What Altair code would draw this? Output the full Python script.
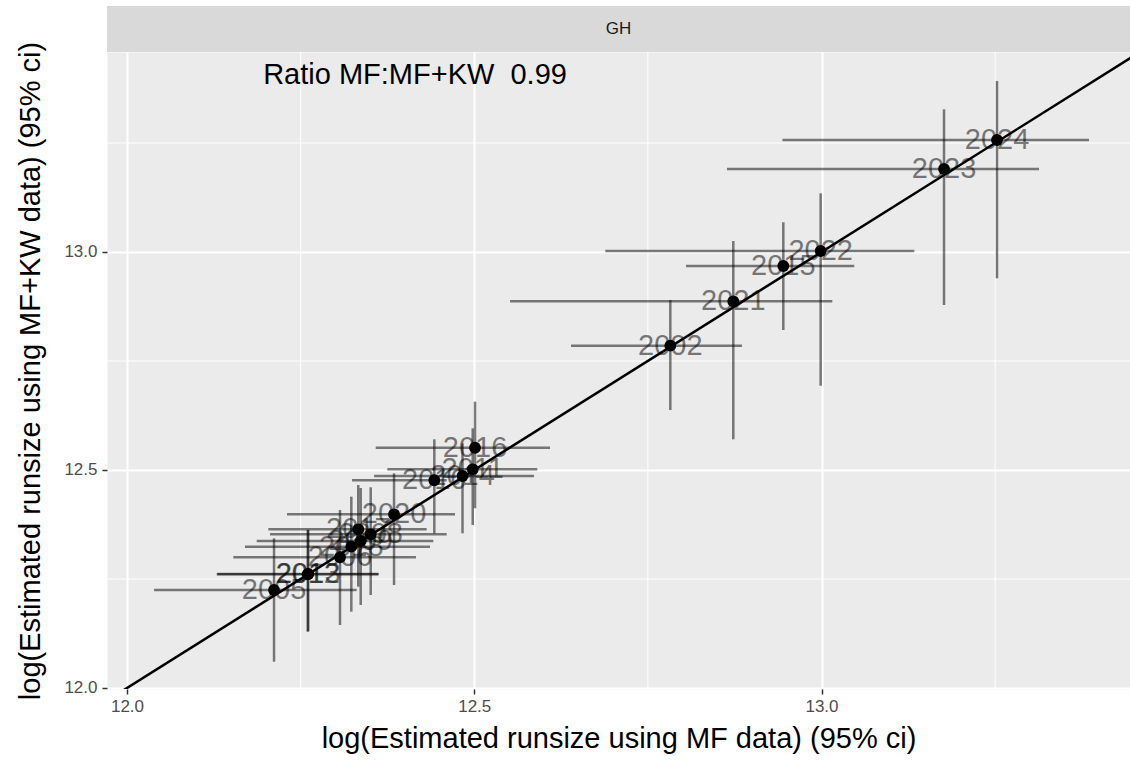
import altair as alt
import pandas as pd

# ---- data ----
years = ["2024", "2023", "2022", "2015", "2021", "2002", "2016", "2011", "2014", "2010",
         "2020", "2008", "2017", "2009", "2018", "2006", "2012", "2013", "2005"]
mf_est = [13.2527, 13.1764, 12.9988, 12.9450, 12.8730, 12.7823, 12.5011, 12.4978, 12.4831, 12.4425,
          12.3845, 12.3509, 12.3330, 12.3365, 12.3230, 12.3067, 12.2602, 12.2610, 12.2117]
mf_lo = [12.9437, 12.8639, 12.6887, 12.8049, 12.5515, 12.6393, 12.3581, 12.3748, 12.3557, 12.3240,
         12.2304, 12.2059, 12.2035, 12.1868, 12.1699, 12.1531, 12.1292, 12.1300, 12.0389]
mf_hi = [13.3852, 13.3132, 13.1336, 13.0472, 13.0156, 12.8855, 12.6091, 12.5908, 12.5860, 12.4603,
         12.4723, 12.4603, 12.4315, 12.4410, 12.4363, 12.4161, 12.3618, 12.3625, 12.3307]
kw_est = [13.2569, 13.1904, 13.0023, 12.9679, 12.8869, 12.7851, 12.5511, 12.5016, 12.4862, 12.4764,
          12.3984, 12.3525, 12.3640, 12.3372, 12.3241, 12.2998, 12.2608, 12.2615, 12.2248]
kw_lo = [12.9397, 12.8784, 12.6933, 12.8211, 12.5704, 12.6376, 12.4122, 12.3739, 12.3548, 12.3548,
         12.2362, 12.2133, 12.2323, 12.1904, 12.1750, 12.1445, 12.1291, 12.1300, 12.0603]
kw_hi = [13.3922, 13.3273, 13.1346, 13.0681, 13.0252, 12.8899, 12.6567, 12.5956, 12.5612, 12.5704,
         12.4924, 12.4603, 12.4656, 12.4587, 12.4388, 12.4083, 12.3624, 12.3630, 12.3433]

x_ticks = [12.0, 12.5, 13.0]
x_minor = [12.25, 12.75, 13.25]
y_ticks = [12.0, 12.5, 13.0]
y_minor = [12.25, 12.75, 13.25]
x_domain = [11.9712, 13.4442]
y_domain = [11.9977, 13.4587]
diag_ends = [11.5, 14.0]
strip_label = ["GH"]
ratio_text = ["Ratio MF:MF+KW\u00a0\u00a00.99"]
ratio_x = [12.4147]
ratio_y = [13.406]

FONT = "Liberation Sans"
BIG = 29
W, H = 1023, 637

df = pd.DataFrame({"year": years, "x": mf_est, "xlo": mf_lo, "xhi": mf_hi,
                   "y": kw_est, "ylo": kw_lo, "yhi": kw_hi})
xs = alt.Scale(domain=x_domain, nice=False, zero=False)
ys = alt.Scale(domain=y_domain, nice=False, zero=False)

XT = "log(Estimated runsize using MF data) (95% ci)"
YT = "log(Estimated runsize using MF+KW data) (95% ci)"
xaxis = alt.Axis(values=x_ticks, format=".1f", grid=True, gridColor="white", gridWidth=2,
                 domain=False, tickColor="#333333", tickSize=5, tickWidth=1.5,
                 labelColor="#4D4D4D", labelFontSize=17, labelFont=FONT, labelPadding=4,
                 title=XT, titleFont=FONT,
                 titleFontSize=BIG, titleFontWeight="normal", titleColor="black", titlePadding=10)
yaxis = alt.Axis(values=y_ticks, format=".1f", grid=True, gridColor="white", gridWidth=2,
                 domain=False, tickColor="#333333", tickSize=5, tickWidth=1.5,
                 labelColor="#4D4D4D", labelFontSize=17, labelFont=FONT, labelPadding=5,
                 title=YT, titleFont=FONT,
                 titleFontSize=BIG, titleFontWeight="normal", titleColor="black", titlePadding=18)

base = alt.Chart(df)

minor_x = alt.Chart(pd.DataFrame({"v": x_minor})).mark_rule(color="white", strokeWidth=1).encode(
    x=alt.X("v:Q", scale=xs, axis=xaxis, title=XT))
minor_y = alt.Chart(pd.DataFrame({"v": y_minor})).mark_rule(color="white", strokeWidth=1).encode(
    y=alt.Y("v:Q", scale=ys, axis=yaxis, title=YT))

hbars = base.mark_rule(color="black", opacity=0.5, strokeWidth=2.5).encode(
    x=alt.X("xlo:Q", scale=xs, axis=xaxis, title=XT), x2="xhi:Q",
    y=alt.Y("y:Q", scale=ys, axis=yaxis, title=YT))
vbars = base.mark_rule(color="black", opacity=0.5, strokeWidth=2.5).encode(
    x=alt.X("x:Q", scale=xs, axis=xaxis, title=XT),
    y=alt.Y("ylo:Q", scale=ys, axis=yaxis, title=YT), y2="yhi:Q")

diag = alt.Chart(pd.DataFrame({"a": diag_ends, "b": diag_ends})).mark_line(
    color="black", strokeWidth=2.5, clip=True).encode(
    x=alt.X("a:Q", scale=xs, axis=xaxis, title=XT), y=alt.Y("b:Q", scale=ys, axis=yaxis, title=YT))

points = base.mark_circle(size=140, color="black", opacity=1).encode(
    x=alt.X("x:Q", scale=xs, axis=xaxis, title=XT), y=alt.Y("y:Q", scale=ys, axis=yaxis, title=YT))

labels = base.mark_text(font=FONT, fontSize=BIG, color="black", opacity=0.5,
                        baseline="middle", align="center").encode(
    x=alt.X("x:Q", scale=xs, axis=xaxis, title=XT), y=alt.Y("y:Q", scale=ys, axis=yaxis, title=YT),
    text="year:N")

ratio = alt.Chart(pd.DataFrame({"t": ratio_text, "x": ratio_x, "y": ratio_y})).mark_text(
    font=FONT, fontSize=BIG, color="black", baseline="middle", align="center").encode(
    x=alt.X("x:Q", scale=xs, axis=xaxis, title=XT), y=alt.Y("y:Q", scale=ys, axis=yaxis, title=YT),
    text="t:N")

strip_df = pd.DataFrame({"s": strip_label})
strip_bg = alt.Chart(strip_df).mark_rect(color="#D9D9D9").encode(
    x=alt.value(0), x2=alt.value(W), y=alt.value(-46), y2=alt.value(0))
strip_txt = alt.Chart(strip_df).mark_text(font=FONT, fontSize=17, color="#1A1A1A",
                                          baseline="middle", align="center").encode(
    x=alt.value(W / 2), y=alt.value(-23), text="s:N")

chart = alt.layer(minor_x, minor_y, hbars, vbars, diag, points, labels, ratio,
                  strip_bg, strip_txt).properties(
    width=W, height=H,
    autosize=alt.AutoSizeParams(type="none"),
    padding={"left": 107, "top": 52, "right": 0, "bottom": 78},
    background="white",
).configure_view(fill="#EBEBEB", stroke="transparent")

chart.save("out.html", embed_options={"renderer": "svg", "actions": False})
